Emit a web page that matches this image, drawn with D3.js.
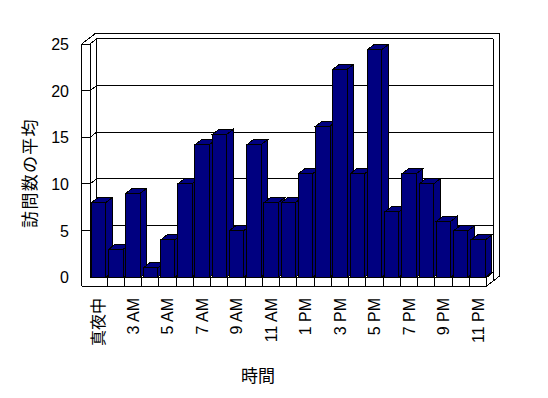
<!DOCTYPE html>
<html>
<head>
<meta charset="utf-8">
<script src="https://cdn.jsdelivr.net/npm/d3@7"></script>
<style>
  body { margin: 0; background: #fff; }
  text { font-family: "Liberation Sans", "Noto Sans CJK JP", sans-serif; fill: #000; }
</style>
</head>
<body>
<script>
// data
const categories = ["真夜中", "1 AM", "3 AM", "4 AM", "5 AM", "6 AM", "7 AM", "8 AM", "9 AM", "10 AM", "11 AM", "正午",
    "1 PM", "2 PM", "3 PM", "4 PM", "5 PM", "6 PM", "7 PM", "8 PM", "9 PM", "10 PM", "11 PM"];
const visits = [8, 3, 9, 1, 4, 10, 14.2, 15.3, 5, 14.2, 8, 8, 11.1, 16.2, 22.3, 11.1, 24.4, 7, 11.1, 10, 6, 5, 4];
const yTicks = [0, 5, 10, 15, 20, 25];
const yTitle = "訪問数の平均";
const xTitle = "時間";

const width = 548;
const height = 398;

let svg = d3.select('body')
    .append('svg')
    .attr('width', width)
    .attr('height', height)
    .style('shape-rendering', 'crispEdges');

// front plane of the plot
const x0 = 90, x1 = 486.7, yBase = 277.3, yTop = 44;
const wallW = 8.3, floorH = 8.7;   // wall / floor thickness
const kx = 6.6, ky = 5.1;          // depth offset per unit of depth

let x = d3.scaleBand()
    .domain(categories)
    .range([x0, x1])
    .paddingInner(0.17)
    .paddingOuter(0.085);
let y = d3.scaleLinear()
    .domain([0, 25])
    .range([yBase, yTop]);

const P = (px, py, z) => [px + z * kx, py - z * ky];
const line = d3.line();

// walls, floor and gridlines
let walls = svg.append('g')
    .attr('fill', 'none')
    .attr('stroke', '#000');
function seg(pts) { walls.append('path').attr('d', line(pts)); }

seg([P(x0, y(25), 1), P(x0, yBase, 1)]);
yTicks.forEach(v => {
    let pts = v === 0 ? [] : [[x0 - wallW, y(v)]];
    pts.push([x0, y(v)], P(x0, y(v), 1), P(x1, y(v), 1));
    seg(pts);
});
seg([P(x1, y(25), 1), P(x1, yBase + floorH, 1)]);
seg([[x0 - wallW, yBase + floorH], [x0 - wallW, y(25)], P(x0 - wallW, y(25), 2),
    P(x1, y(25), 2), P(x1, yBase + floorH, 2), [x1, yBase + floorH], [x0 - wallW, yBase + floorH]]);
seg([[x0, y(25)], [x0, yBase]]);
seg([[x0, yBase], [x1, yBase], [x1, yBase + floorH]]);
seg([[x1, yBase], P(x1, yBase, 1)]);
d3.range(1, categories.length).forEach(i => {
    let bx = x0 + i * x.step();
    seg([[bx, yBase], [bx, yBase + floorH]]);
});

// bars, left to right so each one covers the side of the previous
let data = categories.map((c, i) => ({cat: c, v: visits[i]}));
let bar = svg.append('g')
    .selectAll('g')
    .data(data)
    .join('g')
    .attr('fill', '#000080')
    .attr('stroke', '#000');

const bw = x.bandwidth();
bar.append('path')
    .attr('d', d => line([[x(d.cat) + bw, y(d.v)], P(x(d.cat) + bw, y(d.v), 1),
        P(x(d.cat) + bw, yBase, 1), [x(d.cat) + bw, yBase]]) + 'Z');
bar.append('path')
    .attr('d', d => line([[x(d.cat), y(d.v)], [x(d.cat) + bw, y(d.v)],
        P(x(d.cat) + bw, y(d.v), 1), P(x(d.cat), y(d.v), 1)]) + 'Z');
bar.append('rect')
    .attr('x', d => x(d.cat))
    .attr('y', d => y(d.v))
    .attr('width', bw)
    .attr('height', d => yBase - y(d.v));

// value axis labels
let yAxis = d3.axisLeft(y).tickValues(yTicks).tickSize(0).tickPadding(0);
let yAxisGroup = svg.append('g')
    .attr('transform', `translate(69,0)`)
    .call(yAxis);
yAxisGroup.select('.domain').remove();
yAxisGroup.attr('font-family', null).attr('font-size', 16);
yAxisGroup.selectAll('text').attr('dy', '0.35em').style('fill', '#000');

// category labels, every other one, turned upright
let xAxis = d3.axisBottom(x).tickSize(0).tickFormat((d, i) => i % 2 ? '' : d);
let xAxisGroup = svg.append('g')
    .attr('transform', `translate(0,298)`)
    .call(xAxis);
xAxisGroup.select('.domain').remove();
xAxisGroup.attr('font-family', null).attr('font-size', 16);
xAxisGroup.selectAll('text')
    .attr('transform', 'rotate(-90)')
    .attr('text-anchor', 'end')
    .attr('x', 0)
    .attr('y', 0)
    .attr('dy', '0.35em')
    .style('fill', '#000');

// titles
svg.append('text')
    .attr('transform', 'translate(30,173) rotate(-90)')
    .attr('text-anchor', 'middle')
    .attr('dy', '0.35em')
    .attr('font-size', 17)
    .attr('letter-spacing', 1.3)
    .text(yTitle);
svg.append('text')
    .attr('x', 258)
    .attr('y', 376)
    .attr('text-anchor', 'middle')
    .attr('dy', '0.35em')
    .attr('font-size', 17)
    .text(xTitle);
</script>
</body>
</html>
